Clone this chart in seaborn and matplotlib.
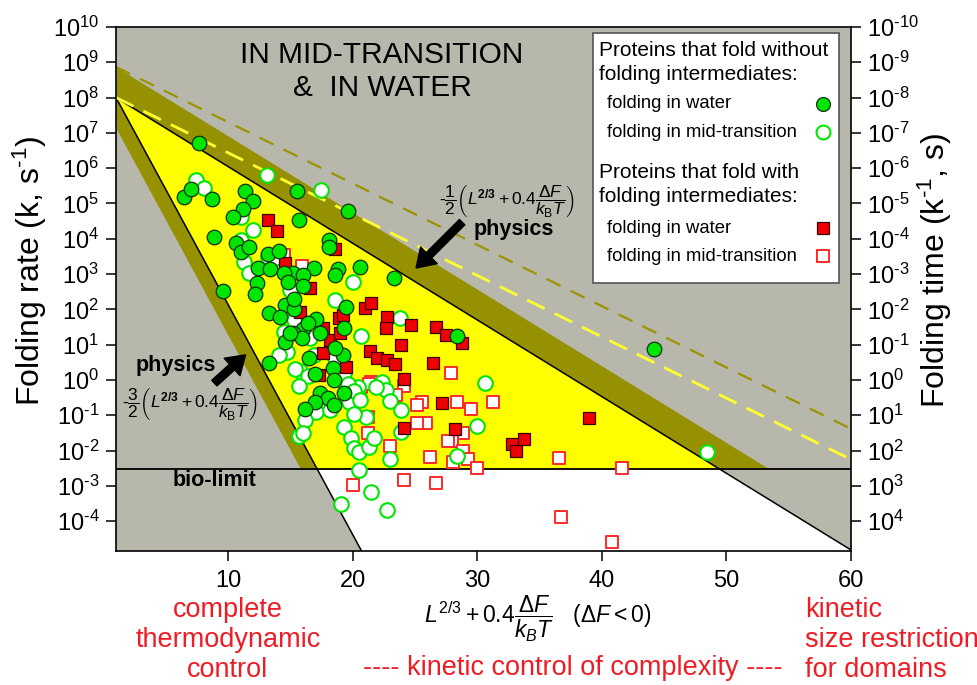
import numpy as np
import pandas as pd
import matplotlib
matplotlib.use("Agg")
import matplotlib.pyplot as plt
from matplotlib.patches import Rectangle
from matplotlib.ticker import NullLocator
import seaborn as sns

# ── Data ─────────────────────────────────────────────────────────────────────
# proteins without folding intermediates, folding in water
water_2s_x = [7.7, 6.5, 7.0, 8.7, 11.4, 12.0, 11.2, 10.4, 15.5, 15.7, 8.9, 10.65,
              11.0, 11.7, 13.2, 14.1, 12.4, 13.4, 15.2, 16.9, 14.5, 16.0, 9.6, 19.6,
              23.3, 18.1, 18.1, 18.8, 18.6, 20.6, 13.3, 14.6, 15.3, 15.3, 16.0, 14.8,
              12.3, 12.2, 17.1, 19.5, 16.0, 19.3, 15.2, 14.6, 15.9, 17.4, 28.4, 44.2,
              14.2, 15.0, 16.4, 13.3, 16.5, 17.0, 18.4, 19.2, 18.6, 18.5, 17.4, 18.0,
              19.3, 17.0, 16.2, 18.5]
water_2s_k = [5.2e6, 1.5e5, 2.6e5, 1.3e5, 2.2e5, 1.2e5, 7.1e4, 4.0e4, 2.2e5, 3.3e4,
              1.1e4, 7.4e3, 4.3e3, 5.9e3, 3.6e3, 4.6e3, 1.5e3, 1.35e3, 1.1e3, 1.5e3,
              1.1e3, 9.3e2, 3.3e2, 6.0e4, 7.6e2, 9.1e3, 5.9e3, 1.35e3, 9.1e2, 1.6e3,
              79, 130, 100, 200, 460, 600, 550, 280, 52, 120, 27, 29, 22, 12, 15, 21,
              17, 7.6, 62, 21, 40, 3.1, 4.1, 1.5, 2.2, 5.1, 7.9, 1.0, 0.42, 0.30,
              0.42, 0.24, 0.15, 0.19]

# proteins without folding intermediates, folding in mid-transition
mid_2s_x = [7.4, 8.1, 13.1, 17.5, 12.0, 11.0, 11.3, 11.7, 13.2, 13.8, 11.0, 20.0,
            18.6, 15.0, 23.8, 20.7, 15.3, 14.5, 16.6, 14.7, 14.1, 15.8, 15.4, 16.4,
            15.7, 16.9, 18.6, 19.3, 20.4, 20.5, 17.6, 19.7, 17.1, 18.2, 16.2, 15.7,
            16.05, 19.3, 19.6, 20.1, 20.6, 21.05, 20.1, 19.3, 19.85, 20.1, 20.5, 21.3,
            21.7, 22.4, 22.65, 23.0, 23.9, 23.9, 23.0, 21.9, 20.5, 21.45, 19.05, 22.8,
            28.4, 30.0, 30.6, 48.5]
mid_2s_k = [4.6e5, 2.8e5, 6.2e5, 2.4e5, 1.8e4, 4.2e4, 2.2e3, 1.05e3, 3.1e3, 2.8e3,
            9.1e3, 600, 180, 350, 56, 17, 50, 23, 15, 6.3, 5.0, 1.8, 2.0, 1.26,
            0.68, 5.1, 4.1, 0.89, 0.65, 0.30, 0.19, 0.24, 0.126, 0.14, 0.072, 0.025,
            0.031, 1.55, 0.79, 0.47, 0.27, 0.091, 0.11, 0.047, 0.022, 0.0115, 0.0093,
            0.0129, 0.022, 0.89, 0.51, 0.25, 0.14, 0.034, 0.0056, 0.65, 0.0028,
            6.8e-4, 3.0e-4, 2.0e-4, 0.0069, 0.049, 0.83, 0.0091]

# proteins with folding intermediates, folding in water
water_ms_x = [13.2, 13.9, 18.6, 14.6, 16.6, 21.0, 21.5, 22.8, 22.65, 24.7, 26.7, 27.5,
              28.8, 18.9, 19.2, 17.6, 15.8, 21.4, 22.0, 22.8, 23.4, 23.9, 26.45, 24.1,
              27.2, 28.2, 24.1, 19.45, 17.6, 18.2, 19.0, 17.3, 39.0, 32.8, 33.1, 33.8]
water_ms_k = [3.5e4, 1.7e4, 5.0e3, 2.0e3, 400, 107, 150, 62, 29, 36, 32, 19, 11, 56,
              69, 29, 85, 6.8, 4.1, 3.6, 2.75, 9.8, 3.1, 1.05, 0.22, 0.040, 0.043,
              2.4, 5.9, 13.5, 22, 1.4, 0.081, 0.015, 0.010, 0.021]

# proteins with folding intermediates, folding in mid-transition
mid_ms_x = [15.9, 14.5, 28.4, 31.3, 29.5, 25.6, 25.2, 25.9, 25.2, 28.9, 28.0, 27.7,
            28.9, 29.3, 28.1, 30.0, 26.2, 23.0, 21.2, 21.2, 24.1, 26.7, 20.7, 21.45,
            20.0, 27.9, 23.3, 24.1, 20.0, 36.6, 41.6, 36.7, 40.8, 21.3, 23.5]
mid_ms_k = [1.7e3, 3.5e3, 0.24, 0.24, 0.15, 0.24, 0.19, 0.062, 0.062, 0.032, 0.018,
            0.018, 0.010, 0.0056, 0.0048, 0.0033, 0.0066, 0.0138, 0.031, 0.091,
            0.0015, 0.0012, 0.62, 0.89, 0.27, 1.55, 0.35, 0.68, 0.00105, 0.006,
            0.0033, 1.3e-4, 2.5e-5, 0.79, 0.37]

# theoretical bounds: ln k = ln k0 - slope * (x - x0)
k0 = 1e8
x0 = 1.0
slope_upper = 0.5      # -1/2 (...)
slope_lower = 1.5      # -3/2 (...)
slope_dashed = 0.4
band_factor = np.e ** 2
bio_limit = 3e-3

exponents = list(range(-4, 11))
x_ticks = [10, 20, 30, 40, 50, 60]

# ── Style ────────────────────────────────────────────────────────────────────
GREY = "#b8b7ab"
OLIVE = "#969100"
YELLOW = "#ffff00"
GREEN = "#00e600"
RED = "#ee0000"
TXT_RED = "#ee1c24"
HY = "\u2010"   # short hyphen, as in the original labels

sns.set_theme(style="ticks")
plt.rcParams["font.family"] = ["Liberation Sans", "DejaVu Sans"]
plt.rcParams["mathtext.fontset"] = "custom"
plt.rcParams["mathtext.rm"] = "Liberation Sans"
plt.rcParams["mathtext.it"] = "Liberation Sans:italic"
plt.rcParams["mathtext.bf"] = "Liberation Sans:bold"
for key in ["text.color", "axes.labelcolor", "xtick.color", "ytick.color", "axes.edgecolor"]:
    plt.rcParams[key] = "black"

fig = plt.figure(figsize=(9.78, 6.85), dpi=100)
ax = fig.add_axes([0.1186, 0.196, 0.7512, 0.7646])
ax.set_facecolor(GREY)
ax.set_yscale("log")

xmin, xmax = 1.0, 60.0
ymin, ymax = 10 ** -4.84, 1e10
xx = np.linspace(xmin, xmax, 4000)
f_up = k0 * np.exp(-slope_upper * (xx - x0))
f_st = k0 * np.exp(-slope_lower * (xx - x0))
f_dash = k0 * np.exp(-slope_dashed * (xx - x0))

# regions
lo = np.maximum(f_st, ymin)
hi = np.minimum(f_up, bio_limit)
ax.fill_between(xx, lo, hi, where=hi > lo, interpolate=True, color="white", lw=0, zorder=1)
lo = np.maximum(f_st, bio_limit)
ax.fill_between(xx, lo, f_up, where=f_up > lo, interpolate=True, color=YELLOW, lw=0, zorder=1)
lo = np.maximum(f_up, bio_limit)
ax.fill_between(xx, lo, f_up * band_factor, where=f_up * band_factor > lo,
                interpolate=True, color=OLIVE, lw=0, zorder=1)
lo = np.maximum(f_st / band_factor, bio_limit)
ax.fill_between(xx, lo, f_st, where=f_st > lo, interpolate=True, color=OLIVE, lw=0, zorder=1)

ax.plot(xx, f_up, color="black", lw=1.1, zorder=2)
ax.plot(xx, f_st, color="black", lw=1.1, zorder=2)
ax.axhline(bio_limit, color="black", lw=1.3, zorder=2)
ax.plot(xx, f_dash, color="#ffff30", lw=2, dashes=(7, 4), zorder=2)
ax.plot(xx, f_dash * band_factor, color="#9a9400", lw=1.6, dashes=(7, 5), zorder=2)

# scatter
df_mid_ms = pd.DataFrame({"x": mid_ms_x, "k": mid_ms_k})
df_mid_2s = pd.DataFrame({"x": mid_2s_x, "k": mid_2s_k})
df_water_ms = pd.DataFrame({"x": water_ms_x, "k": water_ms_k})
df_water_2s = pd.DataFrame({"x": water_2s_x, "k": water_2s_k})

sns.scatterplot(data=df_mid_ms, x="x", y="k", ax=ax, marker="s", s=70, color="white",
                edgecolor="#ff2a2a", linewidth=1.4, legend=False, zorder=3)
sns.scatterplot(data=df_mid_2s, x="x", y="k", ax=ax, marker="o", s=110, color="white",
                edgecolor=GREEN, linewidth=1.5, legend=False, zorder=4)
sns.scatterplot(data=df_water_ms, x="x", y="k", ax=ax, marker="s", s=70, color=RED,
                edgecolor="#3a0000", linewidth=0.9, legend=False, zorder=5)
sns.scatterplot(data=df_water_2s, x="x", y="k", ax=ax, marker="o", s=110, color=GREEN,
                edgecolor="#103010", linewidth=0.9, legend=False, zorder=6)

# axes
ax.set_xlim(xmin, xmax)
ax.set_ylim(ymin, ymax)
ax.set_xticks(x_ticks)
ax.set_xticklabels([str(t) for t in x_ticks])
ax.set_yticks([10.0 ** e for e in exponents])
ax.set_yticklabels([f"$10^{{{e}}}$".replace("-", HY) for e in exponents])
ax.yaxis.set_minor_locator(NullLocator())
ax.tick_params(direction="out", length=7, width=1.1, labelsize=17, color="black",
               labelcolor="black")
ax.tick_params(axis="x", pad=7)
ax.tick_params(axis="y", pad=5)
ax.set_xlabel("")
ax.set_ylabel("")
for sp in ax.spines.values():
    sp.set_color("black")
    sp.set_linewidth(1.2)

ax2 = ax.twinx()
ax2.set_yscale("log")
ax2.set_ylim(ymin, ymax)
ax2.set_yticks([10.0 ** e for e in exponents])
ax2.set_yticklabels([f"$10^{{{-e}}}$".replace("-", HY) for e in exponents])
ax2.yaxis.set_minor_locator(NullLocator())
ax2.tick_params(direction="out", length=7, width=1.1, labelsize=17, color="black",
                labelcolor="black", pad=5)
for sp in ax2.spines.values():
    sp.set_visible(False)

fig.text(0.031, 0.604, "Folding rate (k, s$^{" + HY + "1}$)", rotation=90, ha="center",
         va="center", fontsize=23)
fig.text(0.956, 0.606, "Folding time (k$^{" + HY + "1}$, s)", rotation=90, ha="center",
         va="center", fontsize=23)

# title inside
ax.text(0.362, 0.947, "IN MID-TRANSITION", transform=ax.transAxes, ha="center",
        va="center", fontsize=21.5)
ax.text(0.362, 0.884, "&  IN WATER", transform=ax.transAxes, ha="center",
        va="center", fontsize=21.5)

# physics annotations
ax.annotate("", xy=(25.1, 10 ** 3.17), xytext=(28.8, 10 ** 4.47),
            arrowprops=dict(facecolor="black", edgecolor="black", width=5.5,
                            headwidth=17, headlength=13, shrink=0), zorder=7)
ax.annotate("", xy=(11.4, 10 ** 0.71), xytext=(8.9, 10 ** -0.09),
            arrowprops=dict(facecolor="black", edgecolor="black", width=5.5,
                            headwidth=17, headlength=13, shrink=0), zorder=7)
ax.text(29.7, 10 ** 4.25, "physics", fontsize=15.5, fontweight="bold", ha="left",
        va="center", zorder=7)
ax.text(2.6, 10 ** 0.4, "physics", fontsize=15.5, fontweight="bold", ha="left",
        va="center", zorder=7)
formula_tail = r"\left(L^{\mathbf{2/3}}+0.4\dfrac{\Delta F}{k_{\rm B}T}\right)$"
ax.text(32.4, 10 ** 5.05, "-" + r"$\dfrac{1}{2}" + formula_tail,
        fontsize=12.5, ha="center", va="center", zorder=7)
ax.text(6.9, 10 ** -0.72, "-" + r"$\dfrac{3}{2}" + formula_tail,
        fontsize=12.5, ha="center", va="center", zorder=7)
ax.text(8.9, 10 ** -2.84, "bio-limit", fontsize=15.5, fontweight="bold", ha="center",
        va="center", zorder=7)

# legend box
ax.add_patch(Rectangle((0.649, 0.511), 0.335, 0.4775, transform=ax.transAxes,
                       facecolor="white", edgecolor="#555555", lw=1.2, zorder=8))
lx_head, lx_item, lx_mark = 0.657, 0.668, 0.962
ax.text(lx_head, 0.956, "Proteins that fold without", transform=ax.transAxes,
        fontsize=15, va="center", zorder=9)
ax.text(lx_head, 0.910, "folding intermediates:", transform=ax.transAxes,
        fontsize=15, va="center", zorder=9)
ax.text(lx_item, 0.853, "folding in water", transform=ax.transAxes,
        fontsize=13.3, va="center", zorder=9)
ax.text(lx_item, 0.7995, "folding in mid-transition", transform=ax.transAxes,
        fontsize=13.3, va="center", zorder=9)
ax.text(lx_head, 0.7231, "Proteins that fold with", transform=ax.transAxes,
        fontsize=15, va="center", zorder=9)
ax.text(lx_head, 0.6773, "folding intermediates:", transform=ax.transAxes,
        fontsize=15, va="center", zorder=9)
ax.text(lx_item, 0.6162, "folding in water", transform=ax.transAxes,
        fontsize=13.3, va="center", zorder=9)
ax.text(lx_item, 0.5627, "folding in mid-transition", transform=ax.transAxes,
        fontsize=13.3, va="center", zorder=9)
ax.plot([lx_mark], [0.853], marker="o", ms=10, mfc=GREEN, mec="#103010", mew=0.9,
        transform=ax.transAxes, zorder=9)
ax.plot([lx_mark], [0.7995], marker="o", ms=10, mfc="white", mec=GREEN, mew=1.5,
        transform=ax.transAxes, zorder=9)
ax.plot([lx_mark], [0.6162], marker="s", ms=8, mfc=RED, mec="#3a0000", mew=0.9,
        transform=ax.transAxes, zorder=9)
ax.plot([lx_mark], [0.5627], marker="s", ms=8, mfc="white", mec="#ff2a2a", mew=1.4,
        transform=ax.transAxes, zorder=9)

# x axis label and region captions
fig.text(0.55, 0.097,
         r"$L^{2/3}+0.4\dfrac{\Delta F}{k_BT}$   $(\Delta F<0)$",
         ha="center", va="center", fontsize=16.5)
fig.text(0.233, 0.066, "complete\nthermodynamic\ncontrol", ha="center", va="center",
         fontsize=19.5, color=TXT_RED, linespacing=1.2)
fig.text(0.586, 0.025, "---- kinetic control of complexity ----", ha="center",
         va="center", fontsize=19.5, color=TXT_RED)
fig.text(0.823, 0.066, "kinetic\nsize restriction\nfor domains", ha="left",
         va="center", fontsize=19.5, color=TXT_RED, linespacing=1.2)

plt.savefig("out.png", dpi=100)
plt.close()
